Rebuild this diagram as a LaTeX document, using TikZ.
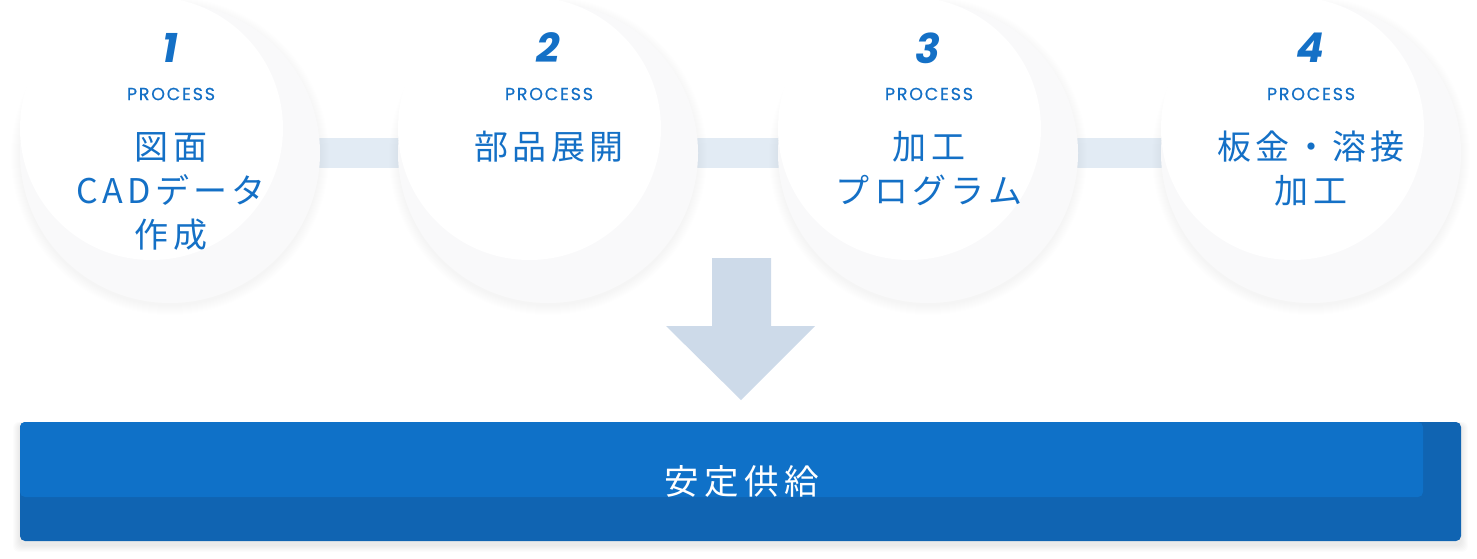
\documentclass[tikz,border=0pt]{standalone}
\usepackage{fontspec}
\newfontfamily\jpfont[LetterSpace=13]{Noto Sans CJK JP}
\newfontfamily\jpwfont[LetterSpace=16]{Noto Sans CJK JP}
\newfontfamily\numfont{Poppins}
\newfontfamily\procfont[LetterSpace=10,FakeBold=0.5]{Poppins}
\definecolor{txtblue}{HTML}{1470C6}
\definecolor{diskgray}{HTML}{F9F9FA}
\definecolor{connc}{HTML}{E2EBF4}
\definecolor{arrowc}{HTML}{CDDAE9}
\definecolor{barlight}{HTML}{0F71C8}
\definecolor{bardark}{HTML}{1064B2}
\tikzset{
  graydisc/.style={circle, fill=diskgray, minimum size=300pt, inner sep=0pt},
  whitedisc/.style={circle, fill=white, minimum size=263pt, inner sep=0pt},
  conn/.style={draw=connc, line width=30pt},
  num/.style={text=txtblue, font=\numfont\bfseries\itshape\fontsize{41}{44}\selectfont, inner sep=0pt},
  proc/.style={text=txtblue, font=\procfont\fontsize{17.5}{18}\selectfont, inner sep=0pt},
  jptxt/.style={text=txtblue, font=\jpfont\fontsize{34}{44}\selectfont, align=center, inner sep=0pt},
  bartxt/.style={text=white, font=\jpwfont\fontsize{34.5}{40}\selectfont, inner sep=0pt},
}
\begin{document}
\begin{tikzpicture}[x=1pt,y=-1pt]
\useasboundingbox (0,0) rectangle (1477,558);
% centres
\coordinate (c1) at (170,153);
\coordinate (c2) at (548,153);
\coordinate (c3) at (928,153);
\coordinate (c4) at (1311,153);
% connectors
\draw[conn] (c1) -- (c2);
\draw[conn] (c2) -- (c3);
\draw[conn] (c3) -- (c4);
% soft shadows and discs
\foreach \cx/\i in {170/1,548/2,928/3,1311/4}{
  \foreach \k in {1,...,10}{
    \fill[black, opacity=0.005] (\cx,156) circle (149+\k);
  }
  \node[graydisc] (g\i) at (\cx,153) {};
  \node[whitedisc] (w\i) at (\cx-18.5,128.5) {};
}
% texts
\node[num] (n1) at (170,48) {1};
\node[num] (n2) at (548,48) {2};
\node[num] (n3) at (928,48) {3};
\node[num] (n4) at (1310,48) {4};
\node[proc] (p1) at (171,94) {PROCESS};
\node[proc] (p2) at (549,94) {PROCESS};
\node[proc] (p3) at (929,94) {PROCESS};
\node[proc] (p4) at (1311,94) {PROCESS};
\node[jptxt] (t1) at (171,191) {図面\\CADデータ\\作成};
\node[jptxt] (t2) at (549,147) {部品展開};
\node[jptxt] (t3) at (929,169) {加工\\プログラム};
\node[jptxt] (t4) at (1311,169) {板金・溶接\\加工};
% down arrow
\fill[arrowc] (712,258) -- (771,258) -- (771,326) -- (815,326) -- (741,400)
  -- (666,326) -- (712,326) -- cycle;
% bar shadow
\foreach \k in {1,...,7}{
  \fill[black, opacity=0.010, rounded corners=6pt] (20-\k,424-\k*0.3) rectangle (1461+\k,545+\k);
}
% bar
\fill[bardark, rounded corners=5pt] (20,422) rectangle (1461,541);
\fill[barlight, rounded corners=5pt] (20,422) rectangle (1423,497);
\node[bartxt] (b) at (742,481) {安定供給};
\end{tikzpicture}
\end{document}
